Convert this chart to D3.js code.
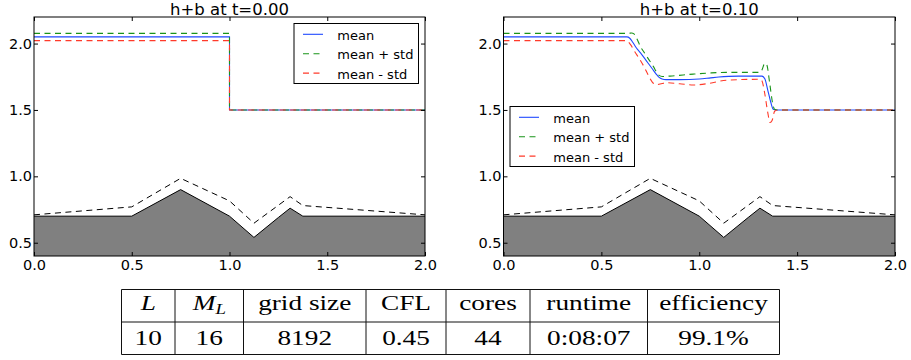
<!DOCTYPE html>
<html>
<head>
<meta charset="utf-8">
<script src="https://cdn.jsdelivr.net/npm/d3@7"></script>
<style>
  html, body { margin: 0; padding: 0; background: #fff; overflow: hidden; }
  svg { display: block; }
</style>
</head>
<body>
<svg id="chart" width="911" height="360"></svg>
<script>
// ---- data ----
const xTicks = [0, 0.5, 1.0, 1.5, 2.0];
const yTicks = [0.5, 1.0, 1.5, 2.0];
const titles = ["h+b at t=0.00", "h+b at t=0.10"];
const legendLabels = ["mean", "mean + std", "mean - std"];

// bottom topography b(x)
const bedX = [0, 0.5, 0.75, 1.0, 1.125, 1.25, 1.31, 1.375, 2.0];
const bedY = [0.7, 0.7, 0.9, 0.7, 0.54, 0.69, 0.76, 0.7, 0.7];
// dashed line above the bottom
const bedDashX = [0, 0.5, 0.75, 1.0, 1.125, 1.31, 1.375, 2.0];
const bedDashY = [0.71, 0.77, 0.985, 0.815, 0.647, 0.847, 0.78, 0.71];

// t = 0.00
const t0X = [0, 1, 1, 2];
const t0Mean = [2.05, 2.05, 1.5, 1.5];
const t0Plus = [2.077, 2.077, 1.5, 1.5];
const t0Minus = [2.022, 2.022, 1.5, 1.5];

// t = 0.10
const t1MeanX = [0, 0.63, 0.645, 0.66, 0.68, 0.70, 0.72, 0.74, 0.76, 0.78, 0.795, 0.81, 0.83, 0.9, 1.0, 1.05, 1.1, 1.15, 1.2, 1.32, 1.335, 1.35, 1.365, 1.378, 1.39, 2.0];
const t1MeanY = [2.05, 2.05, 2.04, 2.01, 1.965, 1.93, 1.89, 1.85, 1.81, 1.77, 1.745, 1.733, 1.728, 1.728, 1.733, 1.74, 1.748, 1.753, 1.755, 1.755, 1.735, 1.65, 1.56, 1.505, 1.5, 1.5];
const t1PlusX = [0, 0.64, 0.655, 0.665, 0.68, 0.70, 0.72, 0.74, 0.766, 0.78, 0.795, 0.81, 0.85, 0.97, 1.05, 1.14, 1.31, 1.32, 1.335, 1.345, 1.36, 1.375, 1.385, 1.40, 2.0];
const t1PlusY = [2.077, 2.077, 2.08, 2.075, 2.04, 1.976, 1.93, 1.885, 1.826, 1.79, 1.76, 1.752, 1.755, 1.77, 1.778, 1.783, 1.783, 1.80, 1.852, 1.84, 1.70, 1.55, 1.505, 1.5, 1.5];
const t1MinusX = [0, 0.62, 0.635, 0.65, 0.67, 0.698, 0.72, 0.74, 0.76, 0.78, 0.80, 0.834, 0.9, 0.97, 1.05, 1.14, 1.31, 1.32, 1.335, 1.35, 1.362, 1.372, 1.385, 1.40, 2.0];
const t1MinusY = [2.022, 2.022, 2.015, 1.99, 1.94, 1.876, 1.82, 1.76, 1.71, 1.69, 1.695, 1.705, 1.697, 1.688, 1.70, 1.724, 1.731, 1.72, 1.62, 1.48, 1.405, 1.42, 1.49, 1.5, 1.5];

// table
const tableHead = ["L", "M_L", "grid size", "CFL", "cores", "runtime", "efficiency"];
const tableRow = ["10", "16", "8192", "0.45", "44", "0:08:07", "99.1%"];

// ---- layout ----
const svg = d3.select("#chart");
const yTop = 17, yBot = 256;
const panels = [
  { x0: 34, x1: 425, title: titles[0], legend: { x: 294, y: 23.5 },
    series: [[t0X, t0Mean], [t0X, t0Plus], [t0X, t0Minus]] },
  { x0: 503.5, x1: 895, title: titles[1], legend: { x: 510, y: 106.5 },
    series: [[t1MeanX, t1MeanY], [t1PlusX, t1PlusY], [t1MinusX, t1MinusY]] },
];
const lineStyles = [
  { color: "#1f48ff", dash: null },
  { color: "#1a941a", dash: "6,4.5" },
  { color: "#ff3a2a", dash: "6,4.5" },
];
const SANS = "'DejaVu Sans', sans-serif";

const zip = (xs, ys) => xs.map((x, i) => [x, ys[i]]);

panels.forEach((p, pi) => {
  const x = d3.scaleLinear().domain([0, 2]).range([p.x0, p.x1]);
  const y = d3.scaleLinear().domain([0.4, 2.2]).range([yBot, yTop]);
  const g = svg.append("g");

  const clipId = "clip" + pi;
  svg.append("clipPath").attr("id", clipId)
    .append("rect")
    .attr("x", p.x0).attr("y", yTop)
    .attr("width", p.x1 - p.x0).attr("height", yBot - yTop);

  const plot = g.append("g").attr("clip-path", `url(#${clipId})`);
  const bed = zip(bedX, bedY);

  plot.append("path")
    .attr("d", d3.area().x(d => x(d[0])).y0(y(0.4)).y1(d => y(d[1]))(bed))
    .attr("fill", "#808080");
  plot.append("path")
    .attr("d", d3.line().x(d => x(d[0])).y(d => y(d[1]))(bed))
    .attr("fill", "none").attr("stroke", "#000").attr("stroke-width", 1);
  plot.append("path")
    .attr("d", d3.line().x(d => x(d[0])).y(d => y(d[1]))(zip(bedDashX, bedDashY)))
    .attr("fill", "none").attr("stroke", "#000").attr("stroke-width", 1)
    .attr("stroke-dasharray", "6,4.5");

  const line = d3.line().x(d => x(d[0])).y(d => y(d[1])).curve(d3.curveMonotoneX);
  p.series.forEach((s, si) => {
    plot.append("path")
      .attr("d", line(zip(s[0], s[1])))
      .attr("fill", "none")
      .attr("stroke", lineStyles[si].color)
      .attr("stroke-width", 1.1)
      .attr("stroke-dasharray", lineStyles[si].dash);
  });

  // frame
  g.append("rect")
    .attr("x", p.x0).attr("y", yTop)
    .attr("width", p.x1 - p.x0).attr("height", yBot - yTop)
    .attr("fill", "none").attr("stroke", "#000").attr("stroke-width", 1);

  // axes: inward ticks on all four sides
  const styleAxis = sel => {
    sel.select(".domain").remove();
    sel.selectAll("line").attr("stroke", "#000");
    sel.selectAll("text").attr("font-family", SANS).attr("font-size", "14.5px").attr("fill", "#000");
  };
  g.append("g").attr("transform", `translate(0,${yBot})`)
    .call(d3.axisBottom(x).tickValues(xTicks).tickFormat(d3.format(".1f")).tickSizeInner(-4).tickSizeOuter(0).tickPadding(4))
    .call(styleAxis);
  g.append("g").attr("transform", `translate(0,${yTop})`)
    .call(d3.axisTop(x).tickValues(xTicks).tickFormat("").tickSizeInner(-4).tickSizeOuter(0))
    .call(styleAxis);
  g.append("g").attr("transform", `translate(${p.x0},0)`)
    .call(d3.axisLeft(y).tickValues(yTicks).tickFormat(d3.format(".1f")).tickSizeInner(-4).tickSizeOuter(0).tickPadding(2))
    .call(styleAxis);
  g.append("g").attr("transform", `translate(${p.x1},0)`)
    .call(d3.axisRight(y).tickValues(yTicks).tickFormat("").tickSizeInner(-4).tickSizeOuter(0))
    .call(styleAxis);

  // title
  g.append("text")
    .attr("x", (p.x0 + p.x1) / 2).attr("y", 14.5)
    .attr("text-anchor", "middle")
    .attr("font-family", SANS).attr("font-size", "16.5px")
    .text(p.title);

  // legend
  const lg = g.append("g").attr("transform", `translate(${p.legend.x},${p.legend.y})`);
  lg.append("rect").attr("width", 124.5).attr("height", 60)
    .attr("fill", "#fff").attr("stroke", "#000").attr("stroke-width", 1);
  legendLabels.forEach((lab, i) => {
    const ry = 10.8 + i * 19.4;
    lg.append("line").attr("x1", 9).attr("x2", 29).attr("y1", ry).attr("y2", ry)
      .attr("stroke", lineStyles[i].color).attr("stroke-width", 1.1)
      .attr("stroke-dasharray", lineStyles[i].dash);
    lg.append("text").attr("x", 43.3).attr("y", ry + 5.5)
      .attr("font-family", SANS).attr("font-size", "13px")
      .text(lab);
  });
});

// ---- table ----
const colX = [121.5, 175, 243.5, 366, 446, 530, 647.5, 779.5];
const rowY = [289.5, 322, 354.5];
const tg = svg.append("g");
colX.forEach(cx => tg.append("line")
  .attr("x1", cx).attr("x2", cx).attr("y1", rowY[0]).attr("y2", rowY[2])
  .attr("stroke", "#111").attr("stroke-width", 1));
rowY.forEach(ry => tg.append("line")
  .attr("x1", colX[0]).attr("x2", colX[colX.length - 1]).attr("y1", ry).attr("y2", ry)
  .attr("stroke", "#111").attr("stroke-width", 1));

const SERIF = "'Liberation Serif', 'Times New Roman', serif";
const baselines = [309.5, 345.3];
[tableHead, tableRow].forEach((row, ri) => {
  row.forEach((cell, ci) => {
    const cx = (colX[ci] + colX[ci + 1]) / 2;
    const t = tg.append("text")
      .attr("transform", `translate(${cx},${baselines[ri]}) scale(1.3,1)`)
      .attr("text-anchor", "middle")
      .attr("font-family", SERIF).attr("font-size", "21px");
    if (ri === 0 && cell === "L") {
      t.attr("font-style", "italic").text("L");
    } else if (ri === 0 && cell === "M_L") {
      t.append("tspan").attr("font-style", "italic").text("M");
      t.append("tspan").attr("font-style", "italic").attr("font-size", "14.5px").attr("dy", 4).text("L");
    } else {
      t.text(cell);
    }
  });
});
</script>
</body>
</html>
